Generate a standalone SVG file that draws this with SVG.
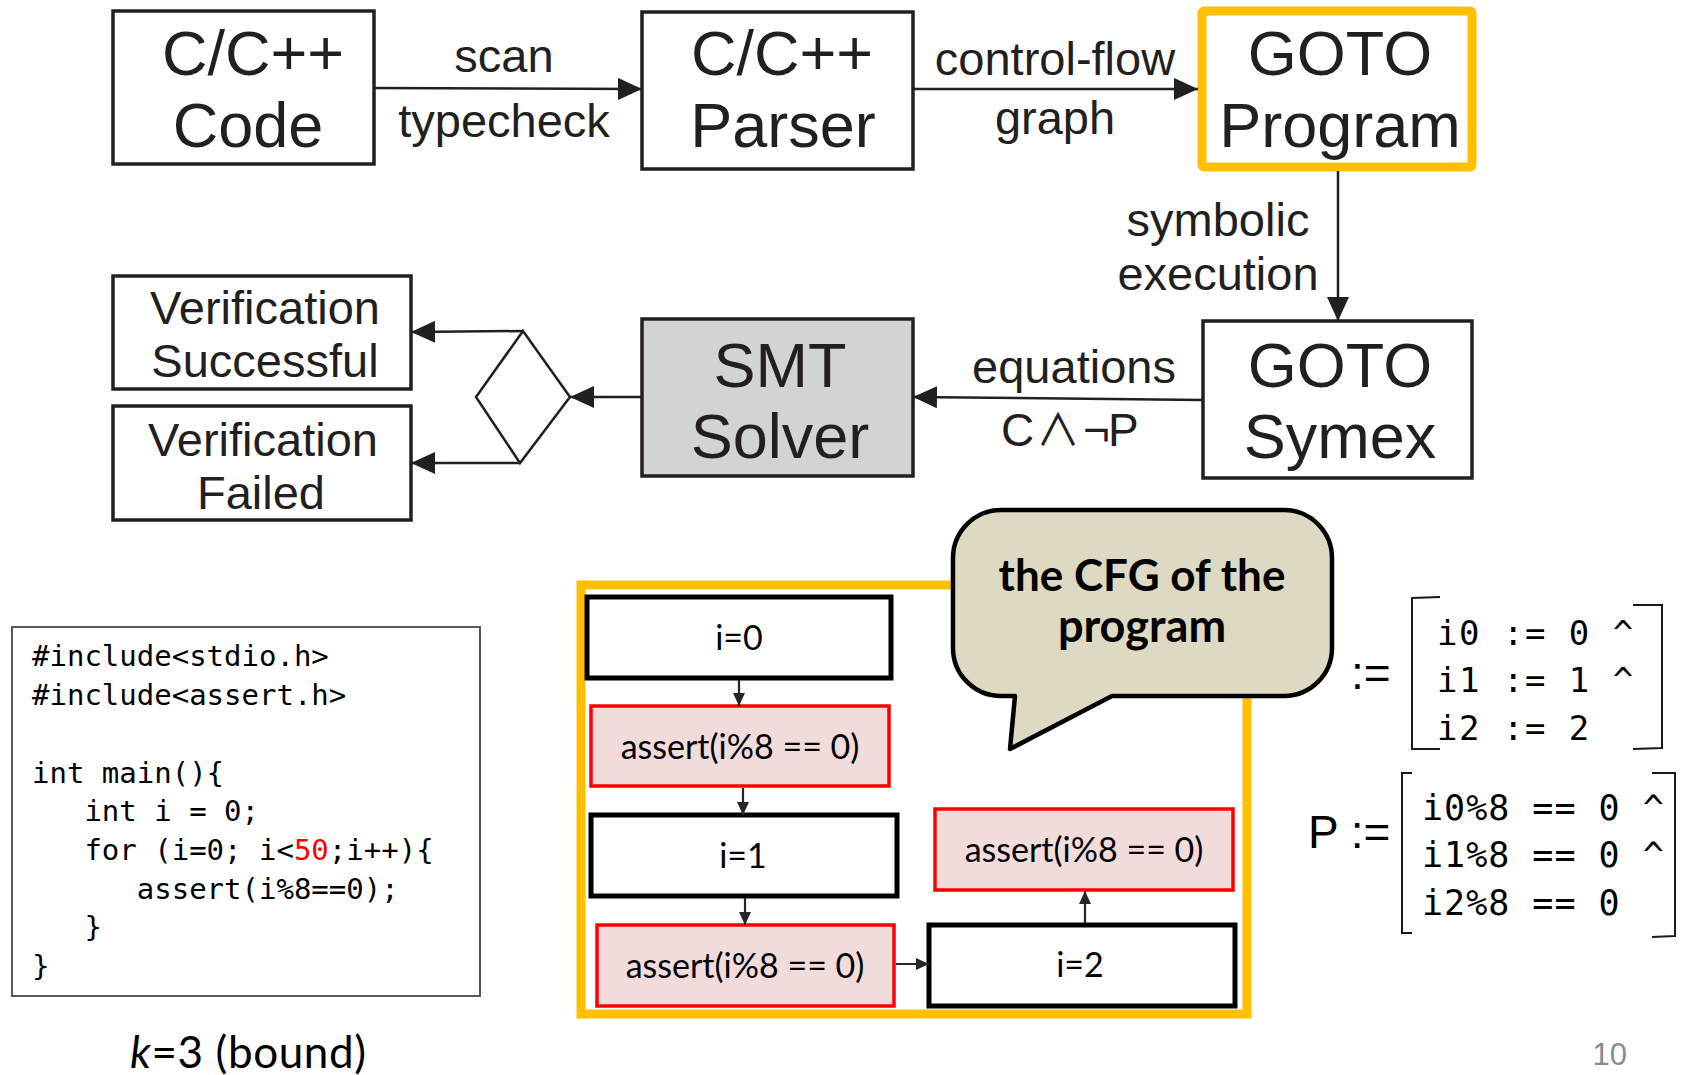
<svg xmlns="http://www.w3.org/2000/svg" width="1684" height="1075" viewBox="0 0 1684 1075">
  <defs>
    <style>
      .box { fill: #ffffff; stroke: #231f20; stroke-width: 3.5; }
      .big { font-family: "Liberation Sans", Arial, sans-serif; font-size: 63px; fill: #231f20; text-anchor: middle; }
      .lbl { font-family: "Liberation Sans", Arial, sans-serif; font-size: 47px; fill: #231f20; text-anchor: middle; }
      .edge { fill: none; stroke: #231f20; stroke-width: 2.5; }
      .cfg { fill: #ffffff; stroke: #000000; stroke-width: 5; }
      .chk { fill: #f2dcdb; stroke: #ff0000; stroke-width: 3.5; }
      .cfgtxt { font-family: Lato, "Open Sans", sans-serif; font-size: 34px; fill: #000000; text-anchor: middle; }
      .cfgedge { fill: none; stroke: #262626; stroke-width: 2.2; }
      .code { font-family: "DejaVu Sans Mono", "Liberation Mono", monospace; font-size: 29px; fill: #000000; white-space: pre; }
      .mono { font-family: "DejaVu Sans Mono", "Liberation Mono", monospace; fill: #000000; white-space: pre; }
      .brk { fill: none; stroke: #1a1a1a; stroke-width: 2; }
    </style>
    <marker id="ah" markerUnits="userSpaceOnUse" markerWidth="24" markerHeight="22" refX="24" refY="11" orient="auto">
      <path d="M0,0 L24,11 L0,22 z" fill="#231f20"/>
    </marker>
    <marker id="ahs" markerUnits="userSpaceOnUse" markerWidth="14" markerHeight="14" refX="13" refY="7" orient="auto">
      <path d="M0,1 L13,7 L0,13 z" fill="#262626"/>
    </marker>
  </defs>

  <rect width="1684" height="1075" fill="#ffffff"/>

  <!-- CBMC tool-flow nodes -->
  <g id="node-code">
    <rect class="box" x="113" y="11" width="261" height="153"/>
    <text class="big" x="253" y="75">C/C++</text>
    <text class="big" x="248" y="147">Code</text>
  </g>
  <g id="node-parser">
    <rect class="box" x="642" y="12" width="271" height="157"/>
    <text class="big" x="782" y="75">C/C++</text>
    <text class="big" x="783" y="147">Parser</text>
  </g>
  <g id="node-goto-program">
    <rect x="1202" y="11" width="270" height="156" rx="2" fill="#ffffff" stroke="#ffc000" stroke-width="9"/>
    <text class="big" x="1340" y="75">GOTO</text>
    <text class="big" x="1340" y="147">Program</text>
  </g>
  <g id="node-goto-symex">
    <rect class="box" x="1203" y="321" width="269" height="157"/>
    <text class="big" x="1340" y="387">GOTO</text>
    <text class="big" x="1340" y="458">Symex</text>
  </g>
  <g id="node-smt">
    <rect x="642" y="319" width="271" height="157" fill="#d1d3d4" stroke="#231f20" stroke-width="3.5"/>
    <text class="big" x="780" y="387">SMT</text>
    <text class="big" x="780" y="458">Solver</text>
  </g>
  <g id="node-decision">
    <polygon points="523,331 570,397 520,463 476,397" fill="#ffffff" stroke="#231f20" stroke-width="2.5"/>
  </g>
  <g id="node-success">
    <rect class="box" x="113" y="276" width="298" height="113"/>
    <text class="lbl" x="265" y="324">Verification</text>
    <text class="lbl" x="265" y="377">Successful</text>
  </g>
  <g id="node-failed">
    <rect class="box" x="113" y="406" width="298" height="114"/>
    <text class="lbl" x="263" y="456">Verification</text>
    <text class="lbl" x="261" y="509">Failed</text>
  </g>

  <!-- tool-flow connectors and their labels -->
  <g id="connectors">
    <line class="edge" x1="374" y1="88" x2="642" y2="89" marker-end="url(#ah)"/>
    <line class="edge" x1="913" y1="89" x2="1198" y2="89" marker-end="url(#ah)"/>
    <line class="edge" x1="1338" y1="171" x2="1338" y2="321" marker-end="url(#ah)"/>
    <line class="edge" x1="1203" y1="400" x2="913" y2="397" marker-end="url(#ah)"/>
    <line class="edge" x1="642" y1="397" x2="570" y2="397" marker-end="url(#ah)"/>
    <line class="edge" x1="523" y1="331" x2="411" y2="332" marker-end="url(#ah)"/>
    <line class="edge" x1="520" y1="463" x2="411" y2="463" marker-end="url(#ah)"/>

    <text class="lbl" x="504" y="72">scan</text>
    <text class="lbl" x="504" y="137">typecheck</text>
    <text class="lbl" x="1055" y="75">control-flow</text>
    <text class="lbl" x="1055" y="134">graph</text>
    <text class="lbl" x="1218" y="236">symbolic</text>
    <text class="lbl" x="1218" y="290">execution</text>
    <text class="lbl" x="1074" y="383">equations</text>
    <text x="1001" y="446" font-family="'Liberation Sans', 'DejaVu Sans', sans-serif" font-size="46" fill="#231f20">C<tspan x="1036" font-family="'Noto Sans CJK SC', 'DejaVu Sans', sans-serif" font-size="44">∧</tspan><tspan x="1083">¬</tspan><tspan x="1108">P</tspan></text>
  </g>

  <!-- source program -->
  <g id="source-code">
    <rect x="12" y="627" width="468" height="369" fill="#ffffff" stroke="#595959" stroke-width="2"/>
    <text class="code" x="32" y="666">#include&lt;stdio.h&gt;</text>
    <text class="code" x="32" y="705">#include&lt;assert.h&gt;</text>
    <text class="code" x="32" y="783">int main(){</text>
    <text class="code" x="32" y="821">   int i = 0;</text>
    <text class="code" x="32" y="860">   for (i=0; i&lt;<tspan fill="#ff0000">50</tspan>;i++){</text>
    <text class="code" x="32" y="899">      assert(i%8==0);</text>
    <text class="code" x="32" y="937">   }</text>
    <text class="code" x="32" y="976">}</text>
  </g>
  <text x="130" y="1068" font-family="Lato, 'Open Sans', sans-serif" font-size="44" letter-spacing="0.6" fill="#000000"><tspan font-style="italic">k</tspan>=3 (bound)</text>

  <!-- unrolled control-flow graph -->
  <g id="cfg-frame">
    <rect x="581" y="585" width="666" height="429" fill="none" stroke="#ffc000" stroke-width="9"/>
  </g>
  <g id="cfg-i0">
    <rect class="cfg" x="587" y="597" width="304" height="81"/>
    <text class="cfgtxt" x="739" y="650">i=0</text>
  </g>
  <g id="cfg-assert0">
    <rect class="chk" x="591" y="706" width="298" height="80"/>
    <text class="cfgtxt" x="740" y="759">assert(i%8 == 0)</text>
  </g>
  <g id="cfg-i1">
    <rect class="cfg" x="591" y="815" width="306" height="81"/>
    <text class="cfgtxt" x="743" y="868">i=1</text>
  </g>
  <g id="cfg-assert1">
    <rect class="chk" x="597" y="925" width="297" height="81"/>
    <text class="cfgtxt" x="745" y="978">assert(i%8 == 0)</text>
  </g>
  <g id="cfg-i2">
    <rect class="cfg" x="929" y="925" width="306" height="81"/>
    <text class="cfgtxt" x="1080" y="977">i=2</text>
  </g>
  <g id="cfg-assert2">
    <rect class="chk" x="935" y="809" width="298" height="81"/>
    <text class="cfgtxt" x="1084" y="862">assert(i%8 == 0)</text>
  </g>
  <g id="cfg-connectors">
    <line class="cfgedge" x1="739" y1="680" x2="739" y2="706" marker-end="url(#ahs)"/>
    <line class="cfgedge" x1="743" y1="788" x2="743" y2="815" marker-end="url(#ahs)"/>
    <line class="cfgedge" x1="745" y1="898" x2="745" y2="925" marker-end="url(#ahs)"/>
    <line class="cfgedge" x1="896" y1="964" x2="929" y2="964" marker-end="url(#ahs)"/>
    <line class="cfgedge" x1="1085" y1="923" x2="1085" y2="891" marker-end="url(#ahs)"/>
  </g>

  <!-- speech bubble -->
  <g id="callout">
    <path d="M1001,510 H1284 A48,48 0 0 1 1332,558 V648 A48,48 0 0 1 1284,696 H1112 L1010,749 L1015,696 H1001 A48,48 0 0 1 953,648 V558 A48,48 0 0 1 1001,510 Z" fill="#ddd9c3" stroke="#000000" stroke-width="4.5" stroke-linejoin="round"/>
    <text x="1142" y="591" font-family="Lato, 'Open Sans', sans-serif" font-weight="bold" font-size="44" fill="#000000" text-anchor="middle">the CFG of the</text>
    <text x="1142" y="642" font-family="Lato, 'Open Sans', sans-serif" font-weight="bold" font-size="45" fill="#000000" text-anchor="middle">program</text>
  </g>

  <!-- constraint C -->
  <g id="formula-c">
    <text x="1351" y="689" font-family="'Liberation Sans', Arial, sans-serif" font-size="46" fill="#000000">:=</text>
    <path class="brk" d="M1440,597 L1412,598 L1412,749 L1440,749"/>
    <path class="brk" d="M1633,605 L1662,605 L1662,748 L1633,749"/>
    <text class="mono" font-size="34" letter-spacing="1.5" x="1437" y="645">i0 := 0 ^</text>
    <text class="mono" font-size="34" letter-spacing="1.5" x="1437" y="692">i1 := 1 ^</text>
    <text class="mono" font-size="34" letter-spacing="1.5" x="1437" y="740">i2 := 2</text>
  </g>

  <!-- property P -->
  <g id="formula-p">
    <text x="1308" y="848" font-family="'Liberation Sans', Arial, sans-serif" font-size="46" fill="#000000">P :=</text>
    <path class="brk" d="M1412,773 L1402,773 L1402,933 L1412,933"/>
    <path class="brk" d="M1652,773 L1675,773 L1675,936 L1652,937"/>
    <text class="mono" font-size="35" letter-spacing="1" x="1422" y="820">i0%8 == 0 ^</text>
    <text class="mono" font-size="35" letter-spacing="1" x="1422" y="867">i1%8 == 0 ^</text>
    <text class="mono" font-size="35" letter-spacing="1" x="1422" y="915">i2%8 == 0</text>
  </g>

  <text x="1627" y="1065" font-family="'Liberation Sans', Arial, sans-serif" font-size="31" fill="#8c8c8c" text-anchor="end">10</text>
</svg>
